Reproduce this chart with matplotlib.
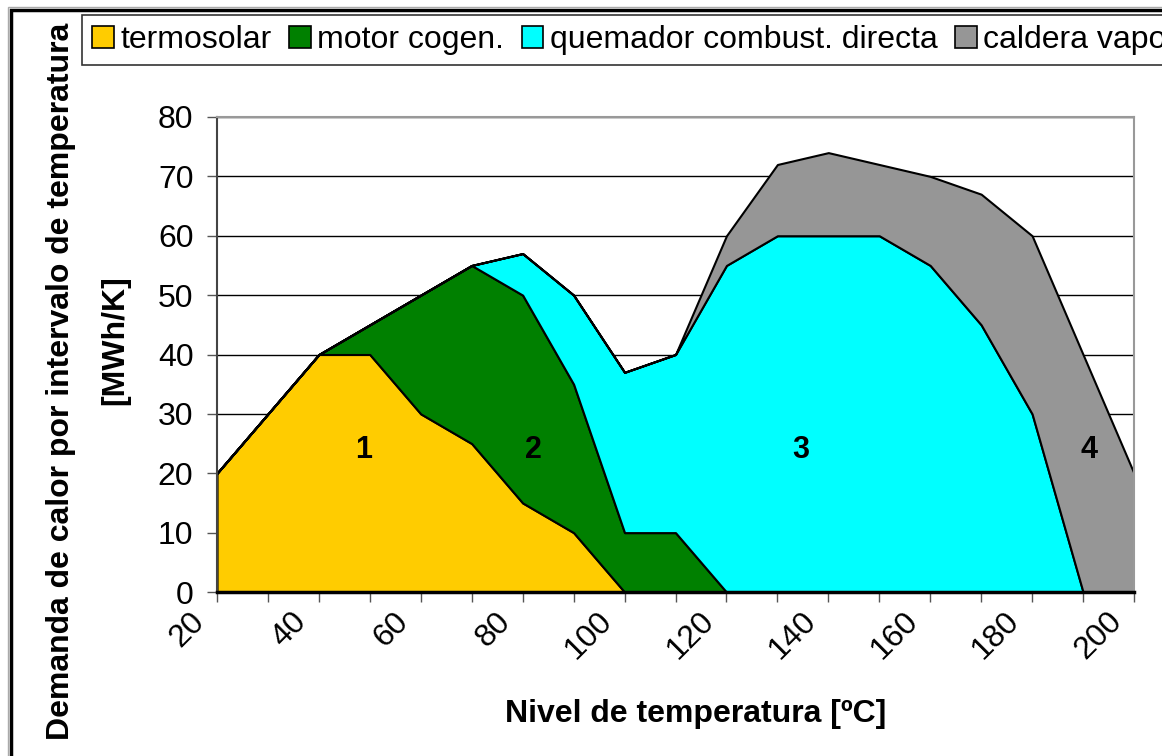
import matplotlib
matplotlib.use("Agg")
import matplotlib.pyplot as plt
from matplotlib.patches import Patch, Rectangle
from matplotlib.transforms import ScaledTranslation

plt.rcParams['font.family'] = ['Liberation Sans', 'DejaVu Sans']

# Data: heat demand per temperature interval (stacked)
temperatura = [20, 30, 40, 50, 60, 70, 80, 90, 100, 110, 120, 130, 140, 150, 160, 170, 180, 190, 200]
termosolar = [20, 30, 40, 40, 30, 25, 15, 10, 0, 0, 0, 0, 0, 0, 0, 0, 0, 0, 0]
motor_cogen = [0, 0, 0, 5, 20, 30, 35, 25, 10, 10, 0, 0, 0, 0, 0, 0, 0, 0, 0]
quemador = [0, 0, 0, 0, 0, 0, 7, 15, 27, 30, 55, 60, 60, 60, 55, 45, 30, 0, 0]
caldera = [0, 0, 0, 0, 0, 0, 0, 0, 0, 0, 5, 12, 14, 12, 15, 22, 30, 40, 20]

series_names = ['termosolar', 'motor cogen.', 'quemador combust. directa', 'caldera vapor']
colores = ['#FFCC00', '#008000', '#00FFFF', '#969696']

zonas = ['1', '2', '3', '4']
zonas_x = [48.7, 82.2, 134.6, 191.2]
zonas_y = [24, 24, 24, 24]

fig = plt.figure(figsize=(11.62, 7.56), dpi=100)
ax = fig.add_axes([217 / 1162, 1 - 592 / 756, (1134 - 217) / 1162, (592 - 117) / 756])

ax.stackplot(temperatura, termosolar, motor_cogen, quemador, caldera,
             colors=colores, edgecolor='black', linewidth=1.5, zorder=2)

ax.set_xlim(20, 200)
ax.set_ylim(0, 80)
ax.set_yticks(range(0, 81, 10))
ax.yaxis.grid(True, color='black', linewidth=1)
ax.set_axisbelow(True)

ax.set_xticks(temperatura)
ax.set_xticklabels([str(t) if i % 2 == 0 else '' for i, t in enumerate(temperatura)])

ax.tick_params(axis='both', direction='out', length=7, width=1, colors='#555555',
               labelcolor='black', labelsize=23)
ax.tick_params(axis='y', pad=10)
ax.tick_params(axis='x', pad=11)

for lbl in ax.get_xticklabels():
    lbl.set_rotation(45)
    lbl.set_rotation_mode('anchor')
    lbl.set_ha('right')
    lbl.set_va('center')
    lbl.set_transform(lbl.get_transform() + ScaledTranslation(-0.17, 0, fig.dpi_scale_trans))

for side in ['top', 'right']:
    ax.spines[side].set_color('#999999')
    ax.spines[side].set_linewidth(1.5)
ax.spines['left'].set_color('#444444')
ax.spines['left'].set_linewidth(1.5)
ax.spines['bottom'].set_color('black')
ax.spines['bottom'].set_linewidth(2.5)
ax.spines['bottom'].set_zorder(5)

for z, zx, zy in zip(zonas, zonas_x, zonas_y):
    ax.text(zx, zy, z, fontsize=22, fontweight='bold', ha='center', va='center', zorder=4)

# axis titles
fig.text(61 / 1162, 1 - 381 / 756, 'Demanda de calor por intervalo de temperatura',
         rotation=90, fontsize=23, fontweight='bold', ha='center', va='center')
fig.text(115 / 1162, 1 - 340 / 756, '[MWh/K]',
         rotation=90, fontsize=23, fontweight='bold', ha='center', va='center')
fig.text(696 / 1162, 1 - 714 / 756, 'Nivel de temperatura [ºC]',
         fontsize=23, fontweight='bold', ha='center', va='center')

# legend along the top, running off the right edge
handles = [Patch(facecolor=c, edgecolor='black', linewidth=1.2) for c in colores]
leg = fig.legend(handles, series_names, loc='upper left', ncol=4,
                 bbox_to_anchor=(82 / 1162, 1 - 15 / 756), fontsize=23,
                 frameon=True, fancybox=False, handlelength=0.68, handleheight=0.68,
                 handletextpad=0.2, columnspacing=0.55, borderpad=0.32,
                 borderaxespad=0)
leg.get_frame().set_edgecolor('black')
leg.get_frame().set_linewidth(1.2)

# chart area border
fig.patches.append(Rectangle((11 / 1162, -0.1), 1.2, 1 - 10 / 756 + 0.1,
                             transform=fig.transFigure, fill=False,
                             edgecolor='black', linewidth=2.5))
fig.patches.append(Rectangle((8 / 1162, -0.1), 1.2, 1 - 7 / 756 + 0.1,
                             transform=fig.transFigure, fill=False,
                             edgecolor='#AAAAAA', linewidth=1))

fig.savefig('out.png', dpi=100)
